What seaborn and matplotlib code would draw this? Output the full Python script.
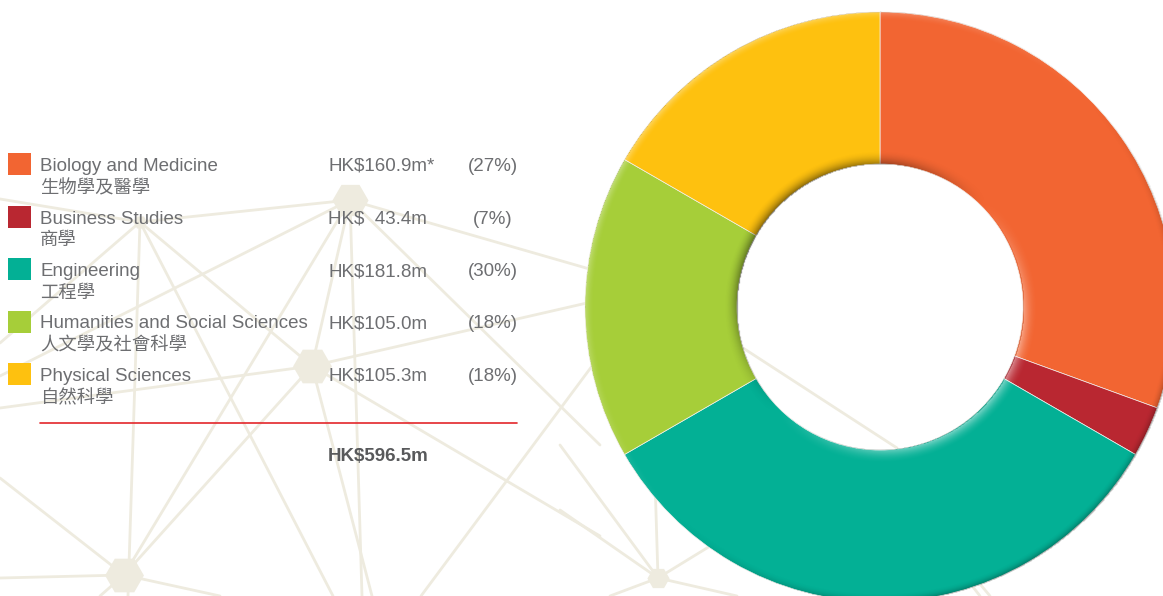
import numpy as np
import matplotlib
matplotlib.use("Agg")
import matplotlib.pyplot as plt
import seaborn as sns

# --- data ---
categories_en = ["Biology and Medicine", "Business Studies", "Engineering",
                 "Humanities and Social Sciences", "Physical Sciences"]
categories_zh = ["生物學及醫學", "商學", "工程學", "人文學及社會科學", "自然科學"]
amount_labels = ["HK$160.9m*", "HK$  43.4m", "HK$181.8m", "HK$105.0m", "HK$105.3m"]
share_labels = ["(27%)", "(7%)", "(30%)", "(18%)", "(18%)"]
total_label = "HK$596.5m"
# the donut in the original is not drawn to the amounts; these are the
# wedge sizes (degrees) as measured on the picture
wedge_deg = [110, 10, 120, 60, 60]
colors = ["#F26532", "#B92731", "#03B095", "#A6CE39", "#FEC10F"]

W, H = 1163, 596
CX, CY = 880, H - 307
R_OUT, R_IN = 295, 143
TEXT_GREY = "#6D6E71"
NET = "#EEEBDF"

# background network (decoration only), pixel coords from top-left
net_segments = [
    ((0, 199), (140, 222)), ((140, 222), (350, 200)), ((350, 200), (600, 272)),
    ((350, 200), (0, 376)), ((350, 200), (312, 366)), ((350, 200), (362, 596)),
    ((350, 200), (124, 575)), ((350, 200), (600, 445)),
    ((140, 222), (128, 596)), ((140, 222), (333, 596)), ((140, 222), (312, 366)),
    ((140, 222), (0, 343)),
    ((312, 366), (0, 408)), ((312, 366), (600, 300)), ((312, 366), (124, 575)),
    ((312, 366), (372, 596)), ((312, 366), (600, 536)),
    ((124, 575), (0, 578)), ((124, 575), (0, 478)), ((124, 575), (220, 596)),
    ((124, 575), (100, 596)),
    ((595, 362), (421, 596)),
    ((560, 445), (658, 578)), ((560, 510), (658, 578)), ((658, 578), (610, 596)),
    ((658, 578), (737, 596)), ((658, 578), (655, 480)), ((658, 578), (720, 540)),
    ((743, 348), (897, 448)), ((960, 560), (990, 596)), ((952, 560), (980, 596)),
]
net_nodes = [(350, 200, 26), (312, 366, 28), (124, 575, 28), (140, 222, 10), (658, 578, 16)]

sns.set_theme(style="white")
plt.rcParams["font.family"] = ["Liberation Sans", "Noto Sans CJK TC", "DejaVu Sans"]

fig = plt.figure(figsize=(W / 100, H / 100), dpi=100)
ax = fig.add_axes([0, 0, 1, 1])

for (x0, y0), (x1, y1) in net_segments:
    ax.plot([x0, x1], [H - y0, H - y1], color=NET, lw=2.0, zorder=1,
            solid_capstyle="round")
for nx, ny, sz in net_nodes:
    ax.plot(nx, H - ny, marker="H", ms=sz, color=NET, mec="none", zorder=1)

pal = sns.color_palette(colors)
ax.pie(wedge_deg, colors=pal, startangle=90, counterclock=False,
       radius=R_OUT, center=(CX, CY),
       wedgeprops=dict(width=R_OUT - R_IN, edgecolor="#F4F0EC", linewidth=0.5),
       frame=True)

# bevel shading along the inner and outer rim (light from upper left)
xs = np.arange(CX - R_OUT - 2, W + 1, 1.0)
ys = np.arange(0, H + 1, 1.0)
gx, gy = np.meshgrid(xs, ys)
rr = np.hypot(gx - CX, gy - CY)
phi = np.degrees(np.arctan2(gy - CY, gx - CX))
light = 135.0
d_in = rr - R_IN
a_in = np.where((d_in >= 0) & (d_in < 14), 0.5 * (1 - d_in / 14) ** 2, 0)
s_in = np.cos(np.radians(phi + 180 - light))
d_out = R_OUT - rr
a_out = np.where((d_out >= 0) & (d_out < 9), 0.35 * (1 - d_out / 9) ** 2, 0)
s_out = np.cos(np.radians(phi - light))
shade = a_in * s_in + a_out * s_out
rgba = np.zeros(gx.shape + (4,))
rgba[..., :3] = np.where(shade[..., None] > 0, 1.0, 0.0)
rgba[..., 3] = np.clip(np.abs(shade), 0, 1)
ax.imshow(rgba, origin="lower", extent=(xs[0] - 0.5, xs[-1] + 0.5, -0.5, H + 0.5),
          interpolation="bilinear", zorder=5)

# legend block
row_base = [171, 223.5, 276, 328.5, 381]
for i, base in enumerate(row_base):
    ax.add_patch(plt.Rectangle((8, H - (base + 4)), 23, 22, color=pal[i], lw=0, zorder=6))
    ax.text(40, H - base, categories_en[i], fontsize=13.5, color=TEXT_GREY,
            va="baseline", ha="left", zorder=6)
    ax.text(40, H - (base + 22), categories_zh[i], fontsize=13.2, color=TEXT_GREY,
            va="baseline", ha="left", family=["Noto Sans CJK TC"], zorder=6)
    ax.text(328, H - base, amount_labels[i], fontsize=13.5, color=TEXT_GREY,
            va="baseline", ha="left", zorder=6)
    ax.text(493, H - base, share_labels[i], fontsize=13.5, color=TEXT_GREY,
            va="baseline", ha="center", zorder=6)

ax.plot([40, 517], [H - 422.5, H - 422.5], color="#E3262A", lw=1.2, zorder=6)
ax.text(328, H - 461, total_label, fontsize=13.5, fontweight="bold", color="#58595B",
        va="baseline", ha="left", zorder=6)

ax.set_xlim(0, W)
ax.set_ylim(0, H)
ax.set_aspect("auto")
ax.axis("off")

fig.savefig("out.png", dpi=100, facecolor="white")
